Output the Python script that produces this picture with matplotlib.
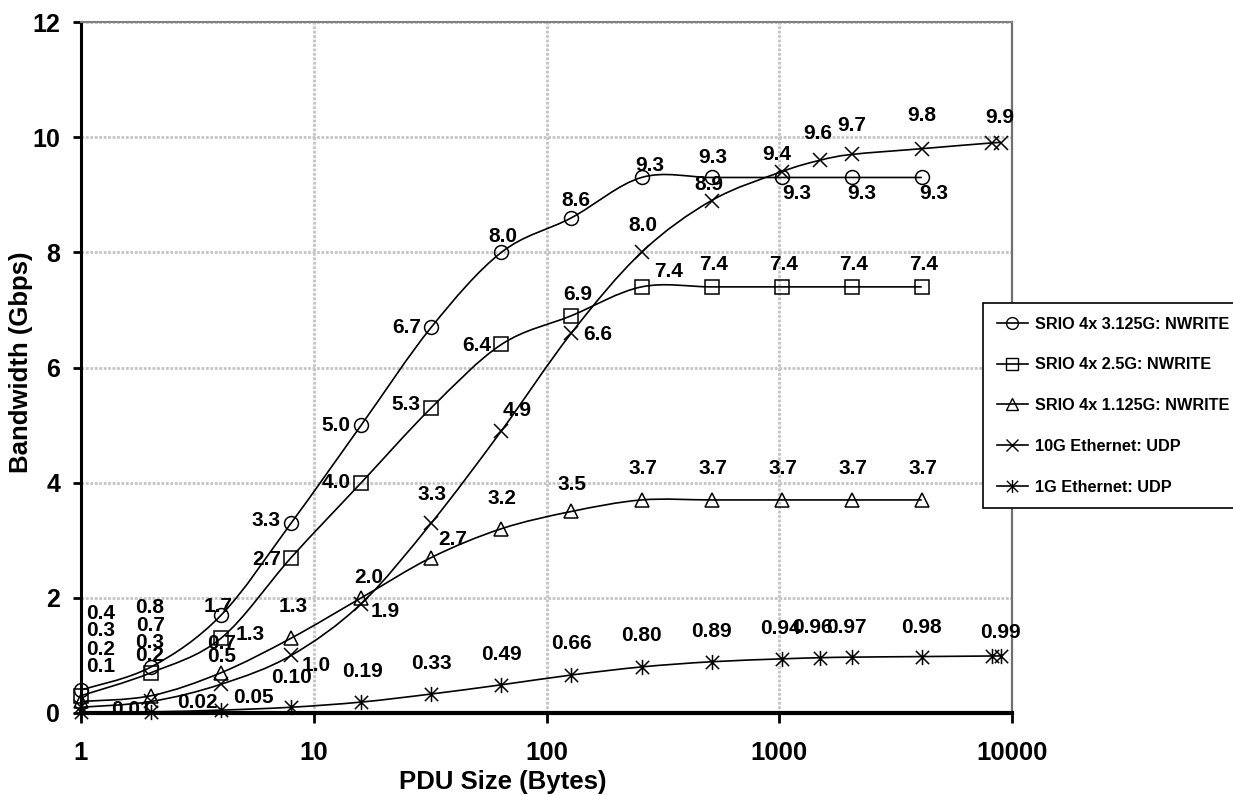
import numpy as np
import matplotlib
matplotlib.use('Agg')
import matplotlib.pyplot as plt
from matplotlib.path import Path
from matplotlib.patches import PathPatch
from matplotlib.lines import Line2D
from matplotlib.font_manager import FontProperties

plt.rcParams['font.family'] = ['Liberation Sans', 'DejaVu Sans']
plt.rcParams['font.weight'] = 'bold'

# PDU sizes (bytes)
srio_sizes = [1, 2, 4, 8, 16, 32, 64, 128, 256, 512, 1024, 2048, 4096]
eth_sizes = [1, 2, 4, 8, 16, 32, 64, 128, 256, 512, 1024, 1500, 2048, 4096, 8192, 9000]

# bandwidth (Gbps)
srio_3125 = [0.4, 0.8, 1.7, 3.3, 5.0, 6.7, 8.0, 8.6, 9.3, 9.3, 9.3, 9.3, 9.3]
srio_25 = [0.3, 0.7, 1.3, 2.7, 4.0, 5.3, 6.4, 6.9, 7.4, 7.4, 7.4, 7.4, 7.4]
srio_1125 = [0.2, 0.3, 0.7, 1.3, 2.0, 2.7, 3.2, 3.5, 3.7, 3.7, 3.7, 3.7, 3.7]
eth_10g = [0.1, 0.2, 0.5, 1.0, 1.9, 3.3, 4.9, 6.6, 8.0, 8.9, 9.4, 9.6, 9.7, 9.8, 9.9, 9.9]
eth_1g = [0.01, 0.02, 0.05, 0.10, 0.19, 0.33, 0.49, 0.66, 0.80, 0.89, 0.94, 0.96, 0.97, 0.98, 0.99, 0.99]

series_names = ['SRIO 4x 3.125G: NWRITE', 'SRIO 4x 2.5G: NWRITE', 'SRIO 4x 1.125G: NWRITE',
                '10G Ethernet: UDP', '1G Ethernet: UDP']

# data label offsets in pixels (None = no label)
off_3125 = [(20, 76), (-1, 59), (-3, 9), (-25, 2), (-25, 0), (-25, 0), (1, 16), (4, 17), (8, 12),
            (1, 20), (15, -16), (10, -16), (12, -16)]
off_25 = [(20, 65), (-1, 47), (29, 4), (-25, -2), (-25, 0), (-25, 3), (-25, -1), (6, 21), (27, 15),
          (2, 22), (2, 22), (2, 22), (2, 22)]
off_1125 = [(20, 52), (-1, 53), (0, 29), (2, 32), (7, 20), (21, 18), (1, 30), (1, 27), (1, 31),
            (1, 31), (1, 31), (1, 31), (1, 31)]
off_10g = [(20, 41), (-1, 46), (0, 28), (25, -10), (24, -8), (1, 28), (16, 20), (26, -2), (1, 27),
           (-3, 16), (-5, 17), (-2, 27), (0, 29), (0, 33), None, (-2, 25)]
off_1g = [(50, 3), (46, 9), (32, 13), (0, 30), (1, 31), (0, 30), (0, 30), (0, 31), (0, 31),
          (0, 30), (-1, 30), (-8, 30), (-5, 30), (0, 29), None, (-1, 23)]

# Excel-like asterisk: an X with a vertical bar
star = Path([(-1, -1), (1, 1), (-1, 1), (1, -1), (0, -1.15), (0, 1.15)],
            [Path.MOVETO, Path.LINETO, Path.MOVETO, Path.LINETO, Path.MOVETO, Path.LINETO])


def smooth_path(xs, ys):
    # Catmull-Rom style bezier through the points, built in log-x space
    pts = np.column_stack([np.log10(xs), np.asarray(ys, float)])
    ext = np.vstack([pts[0], pts, pts[-1]])
    verts = [pts[0]]
    codes = [Path.MOVETO]
    for i in range(len(pts) - 1):
        p0, p1, p2, p3 = ext[i], ext[i + 1], ext[i + 2], ext[i + 3]
        verts += [p1 + (p2 - p0) / 6.0, p2 - (p3 - p1) / 6.0, p2]
        codes += [Path.CURVE4] * 3
    verts = np.array(verts)
    verts[:, 0] = 10 ** verts[:, 0]
    return Path(verts, codes)


fig = plt.figure(figsize=(12.33, 7.95), dpi=100)
ax = fig.add_axes([81 / 1233, 82 / 795, 931 / 1233, 691 / 795])
ax.set_xscale('log')
ax.set_xlim(1, 10000)
ax.set_ylim(0, 12)

series = [
    (srio_sizes, srio_3125, 'o', 10, off_3125, '%.1f'),
    (srio_sizes, srio_25, 's', 9.5, off_25, '%.1f'),
    (srio_sizes, srio_1125, '^', 10.5, off_1125, '%.1f'),
    (eth_sizes, eth_10g, 'x', 10, off_10g, '%.1f'),
    (eth_sizes, eth_1g, star, 11, off_1g, '%.2f'),
]

handles = []
for (xs, ys, mk, ms, offs, fmt), name in zip(series, series_names):
    ax.add_patch(PathPatch(smooth_path(xs, ys), fill=False, edgecolor='black', lw=1.2, zorder=3))
    ax.plot(xs, ys, linestyle='none', marker=mk, ms=ms, mfc='none', mec='black', mew=1.1,
            zorder=4, clip_on=False)
    for x, y, off in zip(xs, ys, offs):
        if off is None:
            continue
        ax.annotate(fmt % y, (x, y), xytext=off, textcoords='offset pixels',
                    ha='center', va='center', fontsize=15, fontweight='bold', zorder=5,
                    annotation_clip=False)
    handles.append(Line2D([], [], color='black', lw=1.2, marker=mk, ms=ms * 0.85, mfc='none',
                          mec='black', mew=1.0))

ax.set_xticks([1, 10, 100, 1000, 10000])
ax.set_xticklabels(['1', '10', '100', '1000', '10000'])
ax.xaxis.set_minor_locator(matplotlib.ticker.NullLocator())
ax.set_yticks([0, 2, 4, 6, 8, 10, 12])
ax.tick_params(axis='y', direction='out', length=6, width=2, pad=9, labelsize=18)
ax.tick_params(axis='x', direction='out', length=7, width=2, pad=13, labelsize=18.5)

ax.grid(True, color='#c4c4c4', lw=2, linestyle=(0, (1, 0.6)))
ax.set_axisbelow(True)

ax.spines['left'].set_linewidth(2.2)
ax.spines['bottom'].set_linewidth(3)
ax.spines['top'].set_color('#808080')
ax.spines['top'].set_linewidth(1.5)
ax.spines['right'].set_color('#707070')
ax.spines['right'].set_linewidth(1.6)

ax.set_xlabel('PDU Size (Bytes)', fontsize=18.5, fontweight='bold')
ax.set_ylabel('Bandwidth (Gbps)', fontsize=18.5, fontweight='bold')
ax.xaxis.set_label_coords(0.453, -0.083)
ax.yaxis.set_label_coords(-0.052, 0.508)

leg_font = FontProperties(family=['Liberation Sans'], weight='bold', size=11.7)
leg = fig.legend(handles, series_names, loc='upper left',
                 bbox_to_anchor=(983 / 1233, 1 - 303 / 795), bbox_transform=fig.transFigure,
                 frameon=True, fancybox=False, edgecolor='black', framealpha=1,
                 prop=leg_font, handlelength=1.9, handletextpad=0.43, borderpad=0.85,
                 labelspacing=1.58, borderaxespad=0)
leg.get_frame().set_linewidth(1.2)

fig.savefig('out.png', dpi=100)
